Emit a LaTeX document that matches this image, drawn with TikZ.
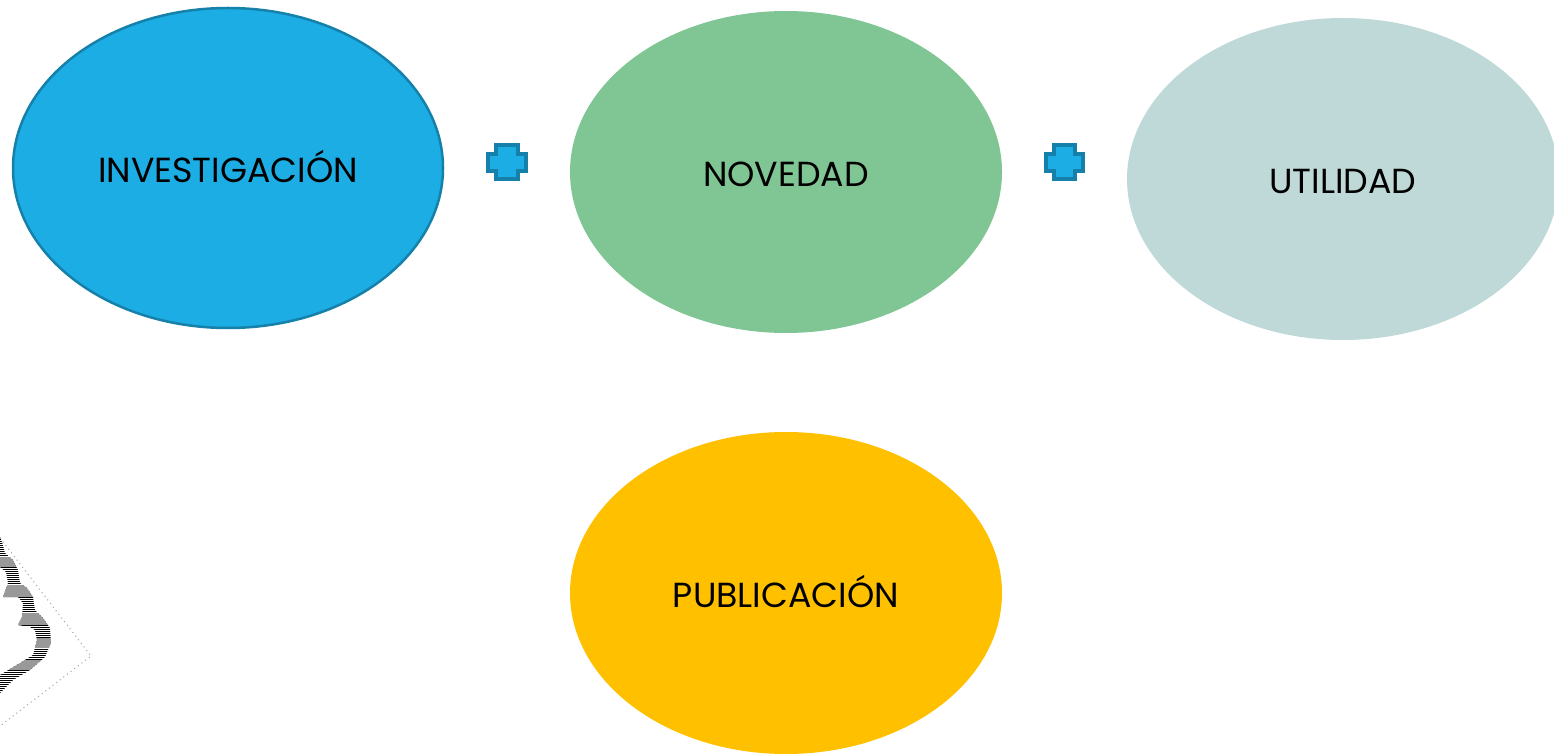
\documentclass[tikz,border=0pt]{standalone}
\usepackage{fontspec}
\setmainfont{Poppins}
\usetikzlibrary{shapes.geometric}
\definecolor{azul}{HTML}{1CADE4}
\definecolor{azulborde}{HTML}{1581AB}
\definecolor{verde}{HTML}{80C694}
\definecolor{gris}{HTML}{BFD9D8}
\definecolor{oro}{HTML}{FFC000}
\begin{document}
\begin{tikzpicture}[
    idea/.style ={ellipse, minimum width=4.32cm, minimum height=3.22cm, inner sep=0pt,
      text height=0.33cm, text depth=0.04cm, font=\fontsize{9.9pt}{11pt}\selectfont},
    mas/.style ={fill=azul, draw=azulborde, line width=0.035cm},
    marco/.style ={draw=gray!70, line width=0.3pt, densely dotted}]
   \clip (0,0) rectangle (15.54,7.53);

   \node[idea,fill=azul,draw=azulborde,line width=0.025cm,minimum width=4.30cm,minimum height=3.20cm] (A) at (2.28,5.85) {INVESTIGACIÓN};
   \node[idea,fill=verde] (B) at (7.86,5.81) {NOVEDAD};
   \node[idea,fill=gris] (C) at (13.43,5.74) {UTILIDAD};
   \node[idea,fill=oro] (D) at (7.86,1.60) {PUBLICACIÓN};

   % signos de suma
   \draw[mas] (4.96,6.08) -- (5.18,6.08) -- (5.18,5.99) -- (5.26,5.99) -- (5.26,5.82) -- (5.18,5.82)
     -- (5.18,5.74) -- (4.96,5.74) -- (4.96,5.82) -- (4.88,5.82) -- (4.88,5.99) -- (4.96,5.99) -- cycle;
   \draw[mas] (10.54,6.08) -- (10.75,6.08) -- (10.75,5.99) -- (10.83,5.99) -- (10.83,5.82) -- (10.75,5.82)
     -- (10.75,5.74) -- (10.54,5.74) -- (10.54,5.82) -- (10.46,5.82) -- (10.46,5.99) -- (10.54,5.99) -- cycle;

   % nube recortada
   \draw[marco] (0,2.15) -- (0.91,0.97) -- (0,0.27);
   \begin{scope}
     \clip (0,2.16) -- (0.03,2.08) -- (0.05,2.00) -- (0.13,1.93) -- (0.18,1.83) -- (0.20,1.70)
       -- (0.27,1.65) -- (0.33,1.56) -- (0.35,1.43) -- (0.43,1.35) -- (0.50,1.25) -- (0.51,1.10)
       -- (0.45,0.96) -- (0.30,0.83) -- (0.13,0.73) -- (0,0.60) -- (0,0.78) -- (0.20,0.90) -- (0.33,0.98)
       -- (0.37,1.13) -- (0.35,1.23) -- (0.30,1.26) -- (0.18,1.28) -- (0.22,1.36) -- (0.23,1.50) -- (0.18,1.56)
       -- (0.03,1.56) -- (0.08,1.70) -- (0.06,1.81) -- (0,1.86) -- cycle;
     \foreach \y in {0.45,0.47,...,2.2}
       \draw[black,line width=0.01cm] (0,\y) -- (0.6,\y);
     \fill[gray!80] (0,1.86) rectangle (0.6,1.96);
     \fill[gray!80] (0,1.56) rectangle (0.6,1.68);
     \fill[gray!80] (0,1.28) rectangle (0.6,1.40);
     \fill[gray!80] (0,1.05) rectangle (0.6,1.15);
     \fill[gray!80] (0,0.83) rectangle (0.6,0.93);
   \end{scope}
 \end{tikzpicture}
\end{document}
